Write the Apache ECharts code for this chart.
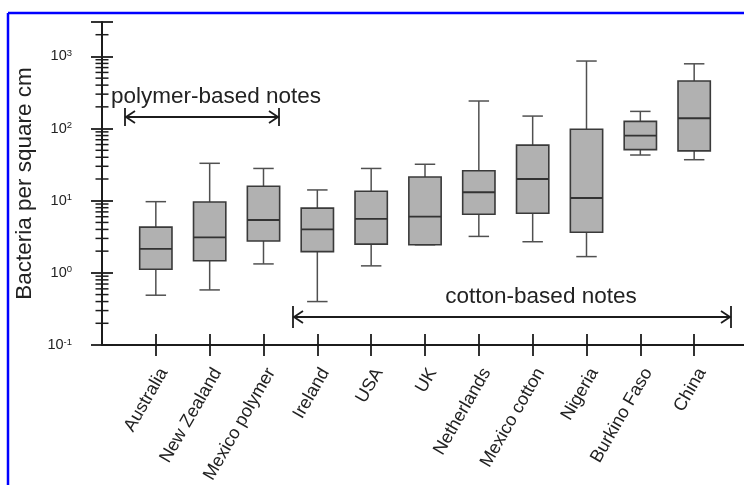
<!DOCTYPE html>
<html>
<head>
<meta charset="utf-8">
<script src="https://cdn.jsdelivr.net/npm/echarts@6/dist/echarts.min.js"></script>
<style>
html, body { margin: 0; padding: 0; background: #fff; }
#chart { width: 744px; height: 485px; }
</style>
</head>
<body>
<div id="chart"></div>
<script>
// box plot values (bacteria per square cm)
var countries = ['Australia', 'New Zealand', 'Mexico polymer', 'Ireland', 'USA', 'UK', 'Netherlands', 'Mexico cotton', 'Nigeria', 'Burkino Faso', 'China'];
var minVals = [0.49, 0.58, 1.33, 0.4, 1.25, 2.45, 3.2, 2.7, 1.68, 43, 37];
var q1Vals = [1.12, 1.47, 2.77, 1.97, 2.5, 2.45, 6.5, 6.7, 3.66, 51, 49];
var medianVals = [2.15, 3.1, 5.4, 4.0, 5.6, 6.0, 13.1, 20, 10.9, 80, 139];
var q3Vals = [4.3, 9.6, 15.9, 7.9, 13.5, 21.3, 26, 59, 98, 126, 456];
var maxVals = [9.7, 33, 28, 14.1, 28, 32, 241, 149, 863, 173, 790];
var decadeExponents = [-1, 0, 1, 2, 3];
var yMin = 0.1;
var yMax = 3000;

var font = "'Liberation Sans', Arial, sans-serif";
var ink = '#1c1c1c';

// empty slot before and after so the boxes sit one band in from the axis ends
var categories = [''].concat(countries, [' ']);

var boxRows = countries.map(function (c, i) {
	return [i + 1, minVals[i], q1Vals[i], medianVals[i], q3Vals[i], maxVals[i]];
});

// minor log ticks 2..9 x 10^n inside the axis range
var minorTicks = [];
decadeExponents.forEach(function (e) {
	for (var k = 2; k <= 9; k++) {
		var v = k * Math.pow(10, e);
		if (v < yMax) minorTicks.push([0, v]);
	}
});

function isCountry(index, value) {
	return value.trim() !== '';
}

function renderBox(params, api) {
	var x = api.value(0);
	var pMin = api.coord([x, api.value(1)]);
	var pQ1 = api.coord([x, api.value(2)]);
	var pMed = api.coord([x, api.value(3)]);
	var pQ3 = api.coord([x, api.value(4)]);
	var pMax = api.coord([x, api.value(5)]);
	var band = api.size([1, 0])[0];
	var hw = band * 0.3;
	var cw = band * 0.19;
	var cx = pMed[0];
	var whisker = { stroke: '#505050', lineWidth: 1.5 };
	return {
		type: 'group',
		children: [
			{ type: 'line', shape: { x1: cx, y1: pQ3[1], x2: cx, y2: pMax[1] }, style: whisker },
			{ type: 'line', shape: { x1: cx - cw, y1: pMax[1], x2: cx + cw, y2: pMax[1] }, style: whisker },
			{ type: 'line', shape: { x1: cx, y1: pQ1[1], x2: cx, y2: pMin[1] }, style: whisker },
			{ type: 'line', shape: { x1: cx - cw, y1: pMin[1], x2: cx + cw, y2: pMin[1] }, style: whisker },
			{ type: 'rect', shape: { x: cx - hw, y: pQ3[1], width: hw * 2, height: pQ1[1] - pQ3[1] },
				style: { fill: '#b1b1b1', stroke: '#3a3a3a', lineWidth: 1.6 } },
			{ type: 'line', shape: { x1: cx - hw, y1: pMed[1], x2: cx + hw, y2: pMed[1] },
				style: { stroke: '#333', lineWidth: 1.8 } }
		]
	};
}

function renderMinorTick(params, api) {
	var p = api.coord([api.value(0), api.value(1)]);
	return {
		type: 'line',
		shape: { x1: p[0] - 6.5, y1: p[1], x2: p[0] + 6.5, y2: p[1] },
		style: { stroke: ink, lineWidth: 1.5 }
	};
}

function yLabel(v) {
	var e = Math.round(Math.log10(v));
	if (decadeExponents.indexOf(e) < 0 || Math.abs(v - Math.pow(10, e)) > v * 1e-6) return '';
	return '{b|10}{s|' + e + '}';
}

// annotation arrow: line with end bars and open heads
function arrow(x1, x2, y, bar) {
	var st = { stroke: ink, lineWidth: 1.8, fill: null };
	return {
		type: 'group',
		children: [
			{ type: 'line', shape: { x1: x1, y1: y, x2: x2, y2: y }, style: st },
			{ type: 'line', shape: { x1: x1, y1: y - bar, x2: x1, y2: y + bar }, style: st },
			{ type: 'line', shape: { x1: x2, y1: y - bar, x2: x2, y2: y + bar }, style: st },
			{ type: 'polyline', shape: { points: [[x1 + 10, y - 6], [x1 + 1, y], [x1 + 10, y + 6]] }, style: st },
			{ type: 'polyline', shape: { points: [[x2 - 10, y - 6], [x2 - 1, y], [x2 - 10, y + 6]] }, style: st }
		]
	};
}

var chart = echarts.init(document.getElementById('chart'));
chart.setOption({
	animation: false,
	backgroundColor: '#fff',
	grid: { left: 102, top: 22, width: 646, height: 323, outerBoundsMode: 'none' },
	xAxis: [{
		type: 'category',
		data: categories,
		boundaryGap: false,
		position: 'bottom',
		axisLine: { show: true, lineStyle: { color: ink, width: 2 } },
		axisTick: { show: true, length: 11, interval: isCountry, lineStyle: { color: ink, width: 1.8 } },
		axisLabel: {
			interval: 0,
			rotate: 60,
			margin: 20,
			verticalAlign: 'top',
			fontSize: 18,
			fontFamily: font,
			color: '#222'
		}
	}, {
		type: 'category',
		data: categories,
		boundaryGap: false,
		position: 'bottom',
		axisLine: { show: false },
		axisTick: { show: true, inside: true, length: 11, interval: isCountry, lineStyle: { color: ink, width: 1.8 } },
		axisLabel: { show: false }
	}],
	yAxis: [{
		type: 'log',
		logBase: 10,
		min: yMin,
		max: yMax,
		position: 'left',
		name: 'Bacteria per square cm',
		nameLocation: 'middle',
		nameGap: 66,
		nameTextStyle: { fontSize: 22.5, fontFamily: font, color: '#222' },
		splitLine: { show: false },
		axisLine: { show: true, lineStyle: { color: ink, width: 2 } },
		axisTick: { show: true, length: 11, lineStyle: { color: ink, width: 1.8 } },
		axisLabel: {
			margin: 30,
			formatter: yLabel,
			rich: {
				b: { fontSize: 14.5, lineHeight: 16, fontFamily: font, color: '#222' },
				s: { fontSize: 9.5, lineHeight: 10, verticalAlign: 'top', fontFamily: font, color: '#222' }
			}
		}
	}, {
		type: 'log',
		logBase: 10,
		min: yMin,
		max: yMax,
		position: 'left',
		splitLine: { show: false },
		axisLine: { show: false },
		axisTick: { show: true, inside: true, length: 11, lineStyle: { color: ink, width: 1.8 } },
		axisLabel: { show: false }
	}],
	series: [{
		type: 'custom',
		name: 'boxes',
		xAxisIndex: 0,
		yAxisIndex: 0,
		encode: { x: 0, y: [1, 2, 3, 4, 5] },
		renderItem: renderBox,
		data: boxRows,
		clip: false,
		z: 3
	}, {
		type: 'custom',
		name: 'minor ticks',
		xAxisIndex: 0,
		yAxisIndex: 0,
		encode: { x: 0, y: 1 },
		renderItem: renderMinorTick,
		data: minorTicks,
		clip: false,
		silent: true
	}],
	graphic: [
		{ type: 'line', shape: { x1: 8, y1: 13, x2: 744, y2: 13 }, style: { stroke: '#0000ff', lineWidth: 2.5 } },
		{ type: 'line', shape: { x1: 8, y1: 13, x2: 8, y2: 485 }, style: { stroke: '#0000ff', lineWidth: 2.5 } },
		{ type: 'text', x: 216, y: 97, style: { text: 'polymer-based notes', font: '22.5px ' + font, fill: '#222', align: 'center', verticalAlign: 'middle' } },
		arrow(125, 279, 117, 9),
		{ type: 'text', x: 541, y: 297, style: { text: 'cotton-based notes', font: '22.5px ' + font, fill: '#222', align: 'center', verticalAlign: 'middle' } },
		arrow(293, 731, 317, 11)
	]
});
</script>
</body>
</html>
